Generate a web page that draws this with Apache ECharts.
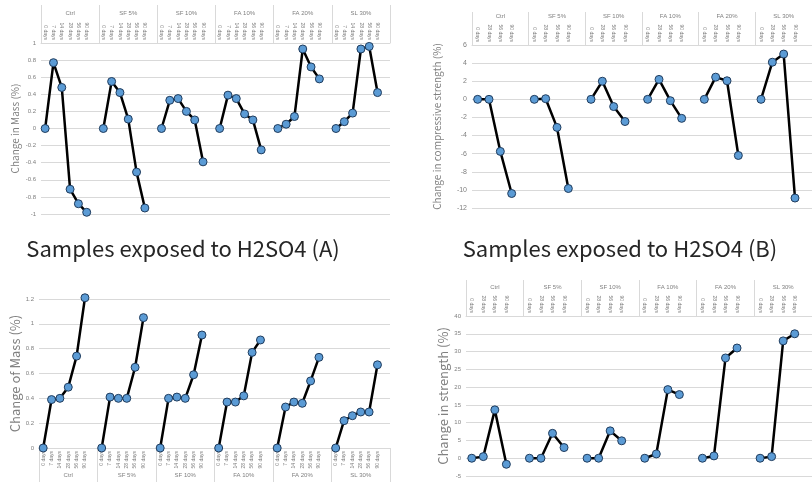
<!DOCTYPE html>
<html>
<head>
<meta charset="utf-8">
<script src="https://cdn.jsdelivr.net/npm/echarts@6/dist/echarts.min.js"></script>
<style>
  html, body { margin: 0; padding: 0; background: #fff; }
  #main { width: 812px; height: 482px; }
</style>
</head>
<body>
<div id="main"></div>
<script>
// group names and time steps (labels are tiny in the source, best guesses)
const groupsA = ['Ctrl', 'SF 5%', 'SF 10%', 'FA 10%', 'FA 20%', 'SL 30%']
const stepsA = ['0 days', '7 days', '14 days', '28 days', '56 days', '90 days']
const stepsB = ['0 days', '28 days', '56 days', '90 days']

// A: change in mass (%), H2SO4
const massA = [
  [0, 0.77, 0.48, -0.71, -0.88, -0.98],
  [0, 0.55, 0.42, 0.11, -0.51, -0.93],
  [0, 0.33, 0.35, 0.20, 0.10, -0.39],
  [0, 0.39, 0.35, 0.17, 0.10, -0.25],
  [0, 0.05, 0.14, 0.93, 0.72, 0.58],
  [0, 0.08, 0.18, 0.93, 0.96, 0.42]
]
// B: change in compressive strength (%), H2SO4
const strengthB = [
  [0, 0, -5.75, -10.4],
  [0, 0.07, -3.1, -9.85],
  [0, 2.0, -0.8, -2.45],
  [0, 2.2, -0.15, -2.1],
  [0, 2.45, 2.05, -6.2],
  [0, 4.1, 5.0, -10.9]
]
// C: change of mass (%)
const massC = [
  [0, 0.39, 0.40, 0.49, 0.74, 1.21],
  [0, 0.41, 0.40, 0.40, 0.65, 1.05],
  [0, 0.40, 0.41, 0.40, 0.59, 0.91],
  [0, 0.37, 0.37, 0.42, 0.77, 0.87],
  [0, 0.33, 0.37, 0.36, 0.54, 0.73],
  [0, 0.22, 0.26, 0.29, 0.29, 0.67]
]
// D: change in strength (%)
const strengthD = [
  [0, 0.45, 13.6, -1.7],
  [0, 0, 7.0, 3.0],
  [0, 0, 7.7, 4.9],
  [0, 1.2, 19.3, 17.9],
  [0, 0.65, 28.2, 31.0],
  [0, 0.45, 33.0, 35.0]
]

const grey = '#d9d9d9'
const textGrey = '#7f7f7f'
const narrow = '"Noto Sans CJK KR", "Liberation Sans", sans-serif'

// each group gets one empty slot after it, so the line breaks between groups
const cats = function (groups, steps) {
  const out = []
  groups.forEach(() => {
    steps.forEach(s => out.push(s))
    out.push('')
  })
  return out
}
const flat = function (vals) {
  const out = []
  vals.forEach(g => {
    g.forEach(v => out.push(v))
    out.push(null)
  })
  return out
}

const panels = [
  { grid: { left: 41, top: 43, width: 349, height: 171 }, pos: 'top', steps: stepsA, data: massA,
    y: { min: -1, max: 1, interval: 0.2 }, name: 'Change in Mass (%)', nameSize: 10, nameGap: 21, tickLen: 38, groupMargin: 27, labelSize: 6 },
  { grid: { left: 472, top: 45, width: 352, height: 163 }, pos: 'top', steps: stepsB, data: strengthB,
    y: { min: -12, max: 6, interval: 2 }, name: 'Change in compressive strength (%)', nameSize: 10, nameGap: 30, tickLen: 33, groupMargin: 26, labelSize: 7 },
  { grid: { left: 39, top: 299, width: 351, height: 149 }, pos: 'bottom', steps: stepsA, data: massC,
    y: { min: 0, max: 1.2, interval: 0.2 }, name: 'Change of Mass (%)', nameSize: 13, nameGap: 16, tickLen: 36, groupMargin: 24, labelSize: 6 },
  { grid: { left: 466, top: 316, width: 356, height: 160 }, pos: 'top', steps: stepsB, data: strengthD,
    y: { min: -5, max: 40, interval: 5 }, name: 'Change in strength (%)', nameSize: 13, nameGap: 16, tickLen: 36, groupMargin: 26, labelSize: 6 }
]

const xAxis = []
const yAxis = []
const series = []
panels.forEach((p, i) => {
  xAxis.push({
    type: 'category',
    gridIndex: i,
    position: p.pos,
    data: cats(groupsA, p.steps),
    boundaryGap: true,
    axisLine: { onZero: false, lineStyle: { color: grey } },
    axisTick: { show: false },
    axisLabel: { interval: 0, rotate: 90, fontSize: 5, color: textGrey, margin: 3 }
  })
  xAxis.push({
    type: 'category',
    gridIndex: i,
    position: p.pos,
    data: groupsA,
    axisLine: { show: false, onZero: false },
    axisTick: { show: true, length: p.tickLen, lineStyle: { color: grey } },
    axisLabel: { interval: 0, fontSize: 6, color: textGrey, margin: p.groupMargin }
  })
  yAxis.push({
    type: 'value',
    gridIndex: i,
    min: p.y.min,
    max: p.y.max,
    interval: p.y.interval,
    name: p.name,
    nameLocation: 'middle',
    nameGap: p.nameGap,
    nameTextStyle: { color: '#808080', fontSize: p.nameSize, fontFamily: narrow },
    axisLine: { show: false },
    axisTick: { show: false },
    axisLabel: { fontSize: p.labelSize, color: textGrey, margin: 5 },
    splitLine: { lineStyle: { color: grey, width: 1 } }
  })
  series.push({
    type: 'line',
    xAxisIndex: i * 2,
    yAxisIndex: i,
    data: flat(p.data),
    connectNulls: false,
    clip: false,
    symbol: 'circle',
    symbolSize: 8,
    lineStyle: { color: '#000', width: 2.5 },
    itemStyle: { color: '#5b9bd5', borderColor: '#1f3b5c', borderWidth: 1 },
    z: 3
  })
})

const titleStyle = {
  fontSize: 22,
  fill: '#262626',
  fontFamily: narrow,
  align: 'center',
  verticalAlign: 'middle'
}

const chart = echarts.init(document.getElementById('main'))
chart.setOption({
  animation: false,
  grid: panels.map(p => p.grid),
  xAxis,
  yAxis,
  series,
  graphic: [
    { type: 'text', x: 183, y: 249, style: { ...titleStyle, text: 'Samples exposed to H2SO4 (A)' } },
    { type: 'text', x: 620, y: 249, style: { ...titleStyle, text: 'Samples exposed to H2SO4 (B)' } }
  ]
})
</script>
</body>
</html>
